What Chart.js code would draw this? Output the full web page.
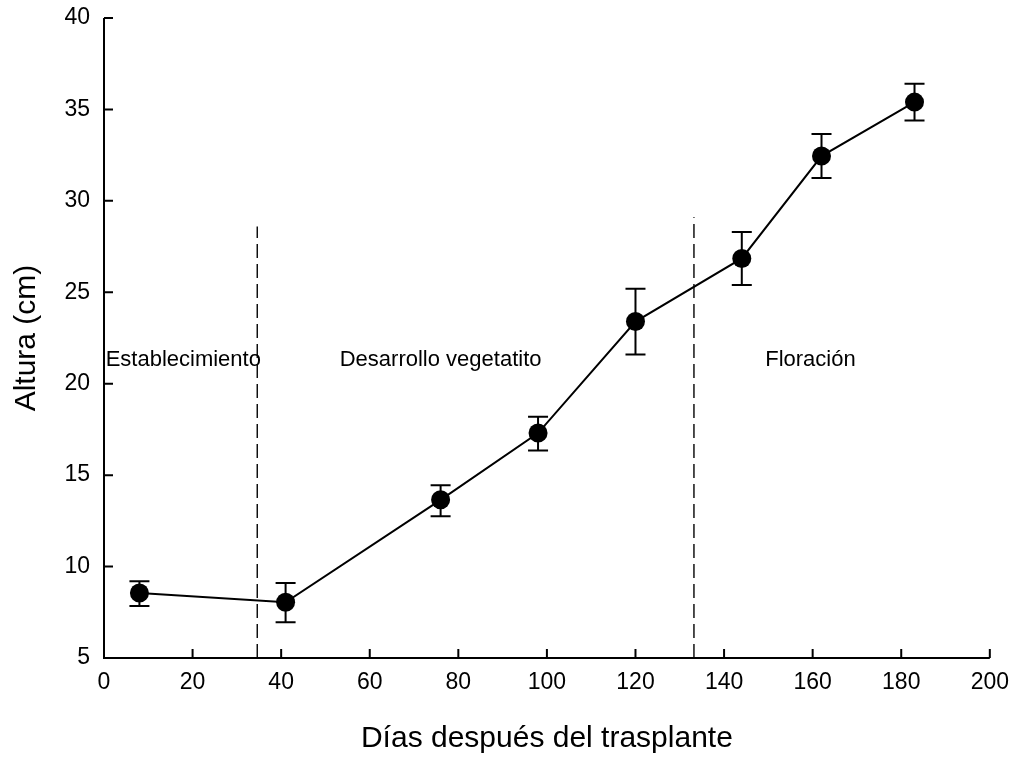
<!DOCTYPE html>
<html>
<head>
<meta charset="utf-8">
<script src="https://cdn.jsdelivr.net/npm/chart.js@4/dist/chart.umd.min.js"></script>
<style>
html,body{margin:0;padding:0;background:#fff;}
#wrap{width:1020px;height:757px;}
</style>
</head>
<body>
<div id="wrap"><canvas id="c" width="1020" height="757"></canvas></div>
<script>
const days = [8, 41, 76, 98, 120, 144, 162, 183];
const height = [8.55, 8.05, 13.65, 17.3, 23.4, 26.85, 32.45, 35.4];
const errUpper = [9.2, 9.1, 14.45, 18.2, 25.2, 28.3, 33.65, 36.4];
const errLower = [7.85, 6.95, 12.75, 16.35, 21.6, 25.4, 31.25, 34.4];
const phaseBoundaries = [34.6, 133.2];
const phaseBoundaryTops = [28.6, 29.1];
const phaseLabels = ['Establecimiento', 'Desarrollo vegetatito', 'Floración'];
const phaseLabelX = [17.9, 76, 159.5];
const phaseLabelY = 21.3;
const xTicks = [0, 20, 40, 60, 80, 100, 120, 140, 160, 180, 200];
const yTicks = [5, 10, 15, 20, 25, 30, 35, 40];

const FONT = '"Liberation Sans", Arial, sans-serif';

const mainData = days.map((d, i) => ({x: d, y: height[i]}));
const boundaryDatasets = phaseBoundaries.map((b, i) => ({
  type: 'line',
  data: [{x: b, y: 5}, {x: b, y: phaseBoundaryTops[i]}],
  borderColor: '#000',
  borderWidth: 1.4,
  borderDash: [14, 6],
  pointRadius: 0,
  fill: false,
  order: 2
}));

const extrasPlugin = {
  id: 'extras',
  afterDatasetsDraw(chart) {
    const ctx = chart.ctx;
    const xs = chart.scales.x, ys = chart.scales.y;
    ctx.save();
    ctx.strokeStyle = '#000';
    ctx.lineWidth = 2;
    days.forEach((d, i) => {
      const px = xs.getPixelForValue(d);
      const pt = ys.getPixelForValue(errUpper[i]);
      const pb = ys.getPixelForValue(errLower[i]);
      ctx.beginPath();
      ctx.moveTo(px, pt); ctx.lineTo(px, pb);
      ctx.moveTo(px - 10, pt); ctx.lineTo(px + 10, pt);
      ctx.moveTo(px - 10, pb); ctx.lineTo(px + 10, pb);
      ctx.stroke();
    });
    ctx.fillStyle = '#000';
    ctx.font = '22px ' + FONT;
    ctx.textAlign = 'center';
    ctx.textBaseline = 'middle';
    phaseLabels.forEach((t, i) => {
      ctx.fillText(t, xs.getPixelForValue(phaseLabelX[i]), ys.getPixelForValue(phaseLabelY));
    });
    const ca = chart.chartArea;
    ctx.lineWidth = 2;
    ctx.beginPath();
    ctx.moveTo(ca.left, ys.getPixelForValue(40));
    ctx.lineTo(ca.left, ca.bottom);
    ctx.lineTo(xs.getPixelForValue(200), ca.bottom);
    xTicks.forEach(v => {
      const p = xs.getPixelForValue(v);
      ctx.moveTo(p, ca.bottom); ctx.lineTo(p, ca.bottom - 9);
    });
    yTicks.forEach(v => {
      const p = ys.getPixelForValue(v);
      ctx.moveTo(ca.left, p); ctx.lineTo(ca.left + 9, p);
    });
    ctx.stroke();
    ctx.restore();
  }
};

new Chart(document.getElementById('c'), {
  type: 'line',
  data: {
    datasets: [{
      data: mainData,
      borderColor: '#000',
      backgroundColor: '#000',
      borderWidth: 2,
      pointRadius: 9.5,
      pointHoverRadius: 9.5,
      pointBackgroundColor: '#000',
      pointBorderWidth: 0,
      fill: false,
      tension: 0,
      order: 1
    }, ...boundaryDatasets]
  },
  options: {
    responsive: false,
    animation: false,
    events: [],
    layout: {padding: {top: 18, right: 29, left: 0, bottom: 0}},
    plugins: {legend: {display: false}, tooltip: {enabled: false}},
    scales: {
      x: {
        type: 'linear',
        min: 0, max: 200,
        afterBuildTicks: s => { s.ticks = xTicks.map(v => ({value: v})); },
        grid: {display: false, drawTicks: false},
        border: {display: false},
        ticks: {color: '#000', font: {family: FONT, size: 23}, padding: 11, maxRotation: 0},
        title: {display: true, text: 'Días después del trasplante', color: '#000', font: {family: FONT, size: 30}, padding: {top: 10, bottom: 0}},
        afterFit: s => { s.height = 99; s.paddingLeft = 0; }
      },
      y: {
        type: 'linear',
        min: 5, max: 40,
        afterBuildTicks: s => { s.ticks = yTicks.map(v => ({value: v})); },
        grid: {display: false, drawTicks: false},
        border: {display: false},
        ticks: {color: '#000', font: {family: FONT, size: 23}, padding: 14},
        title: {display: true, text: 'Altura (cm)', color: '#000', font: {family: FONT, size: 30}, padding: {top: 9, bottom: 4}},
        afterFit: s => { s.width = 104; s.paddingTop = 0; s.paddingBottom = 0; }
      }
    }
  },
  plugins: [extrasPlugin]
});
</script>
</body>
</html>
